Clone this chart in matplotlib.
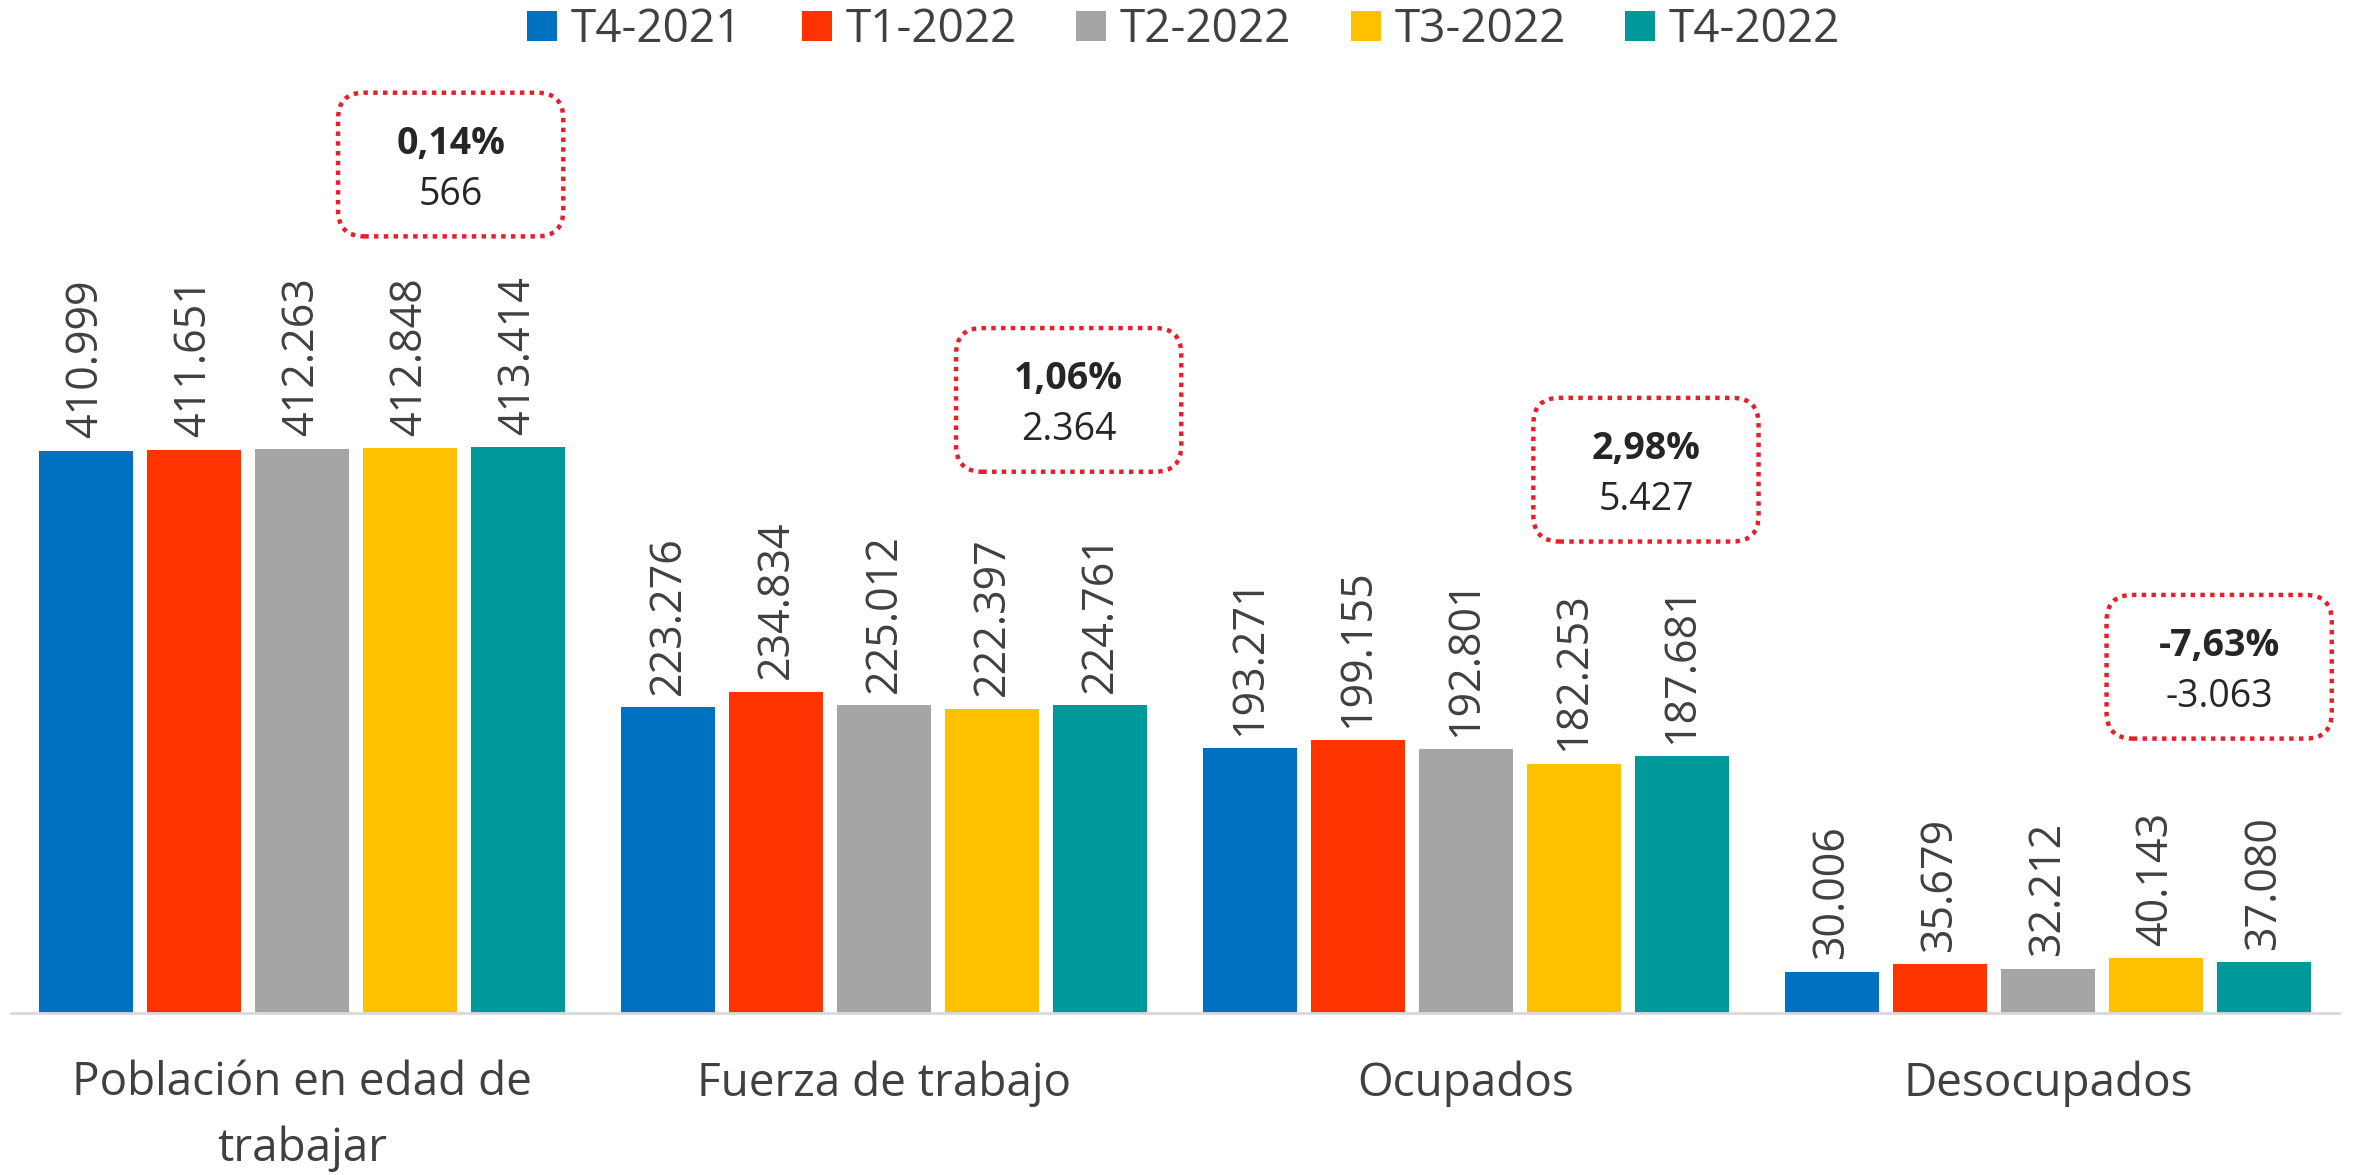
import matplotlib.pyplot as plt
from matplotlib.patches import FancyBboxPatch
import numpy as np

plt.rcParams['font.family'] = ['Open Sans', 'DejaVu Sans']

# datos (miles de personas)
categorias = ["Población en edad de\ntrabajar", "Fuerza de trabajo", "Ocupados", "Desocupados"]
trimestres = ["T4-2021", "T1-2022", "T2-2022", "T3-2022", "T4-2022"]
t4_2021 = [410.999, 223.276, 193.271, 30.006]
t1_2022 = [411.651, 234.834, 199.155, 35.679]
t2_2022 = [412.263, 225.012, 192.801, 32.212]
t3_2022 = [412.848, 222.397, 182.253, 40.143]
t4_2022 = [413.414, 224.761, 187.681, 37.080]

# variación anual T4-2022 vs T4-2021
var_pct = [0.14, 1.06, 2.98, -7.63]
var_abs = [566, 2364, 5427, -3063]

colores = ['#0070C0', '#FF3300', '#A5A5A5', '#FFC000', '#009999']
texto = '#404040'

series = [t4_2021, t1_2022, t2_2022, t3_2022, t4_2022]

fig = plt.figure(figsize=(23.56, 11.75), dpi=100)
ax = fig.add_axes([0.0048, 0.1379, 0.988, 0.757])

x = np.arange(len(categorias))
slot = 0.1856
ancho = 0.162

barras = []
for j, (serie, col) in enumerate(zip(series, colores)):
    pos = x + (j - 2) * slot
    b = ax.bar(pos, serie, width=ancho, color=col, label=trimestres[j], zorder=2)
    barras.append(b)
    for px, val in zip(pos, serie):
        ax.annotate("{:.3f}".format(val), (px, val), xytext=(0, 9),
                    textcoords='offset points', rotation=90, ha='center',
                    va='bottom', fontsize=31, color=texto)

ax.set_xlim(-0.5, 3.5)
ax.set_ylim(0, 650)

for s in ['top', 'right', 'left']:
    ax.spines[s].set_visible(False)
ax.spines['bottom'].set_color('#D9D9D9')
ax.spines['bottom'].set_linewidth(2)
ax.set_yticks([])
ax.set_xticks(x)
ax.set_xticklabels(categorias, fontsize=33, color=texto, linespacing=1.55)
ax.tick_params(axis='x', length=0, pad=34)

# cajas de variación
caja_x = [0.255, 0.317, 0.309, 0.294]
caja_y = [620, 448, 397, 253]
w_box = 0.387
h_box = 105
aspecto = (650 / (0.757 * 1175)) / (4 / (0.988 * 2356))
for i in range(len(categorias)):
    cx = x[i] + caja_x[i]
    cy = caja_y[i]
    caja = FancyBboxPatch((cx - w_box / 2, cy - h_box / 2), w_box, h_box,
                          boxstyle="round,pad=0,rounding_size=0.045",
                          mutation_aspect=aspecto, facecolor='white',
                          edgecolor='#E81E2B', linewidth=3.2,
                          linestyle=(0, (1, 1.2)), zorder=3, clip_on=False)
    ax.add_patch(caja)
    pct = "{:.2f}%".format(var_pct[i]).replace('.', ',')
    num = "{:,}".format(var_abs[i]).replace(',', '.')
    ax.text(cx, cy + 15, pct, ha='center', va='center', fontsize=27,
            fontweight='bold', color='#262626', zorder=4, clip_on=False)
    ax.text(cx, cy - 22, num, ha='center', va='center', fontsize=27,
            color='#262626', zorder=4, clip_on=False)

leg = fig.legend(handles=barras, labels=trimestres, loc='center',
                 bbox_to_anchor=(0.5025, 0.9745), ncol=5, frameon=False,
                 fontsize=33, handlelength=0.65, handleheight=0.65,
                 handletextpad=0.3, columnspacing=1.3)
for t in leg.get_texts():
    t.set_color(texto)

fig.savefig("out.png", dpi=100)
